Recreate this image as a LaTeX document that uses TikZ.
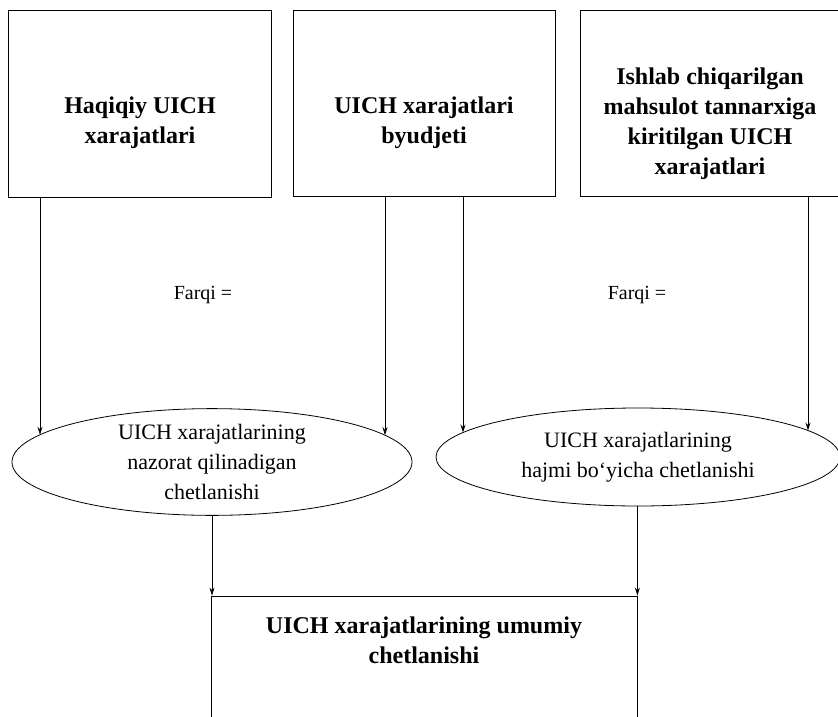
\documentclass[tikz,border=0pt]{standalone}
\usepackage{fontspec}
\setmainfont{Liberation Serif}
\usetikzlibrary{shapes.geometric,arrows.meta,intersections}
\begin{document}
\begin{tikzpicture}[x=1pt,y=-1pt,
  box/.style={draw, line width=0.8pt, rectangle, inner sep=0pt},
  btext/.style={align=center, inner sep=0pt, font=\fontsize{24}{30}\selectfont\bfseries},
  etext/.style={align=center, font=\fontsize{22}{30}\selectfont},
  ftext/.style={inner sep=0pt, font=\fontsize{20}{24}\selectfont},
  oval/.style={draw, line width=0.8pt, ellipse, inner sep=0pt, align=center, font=\fontsize{22}{30}\selectfont},
  arr/.style={line width=0.8pt, -{Stealth[length=8pt,width=5pt]}}
]
\useasboundingbox (0,0) rectangle (838,717);
% top boxes
\node[box, minimum width=263pt, minimum height=187pt] (b1) at (139.5,103.5) {};
\node[box, minimum width=262pt, minimum height=186pt] (b2) at (424,103) {};
\node[box, minimum width=262pt, minimum height=186pt] (b3) at (711,103) {};
\node[btext] (t1) at (140,123) {Haqiqiy UICH\\xarajatlari};
\node[btext] (t2) at (424,123) {UICH xarajatlari\\byudjeti};
\node[btext] (t3) at (710,124) {Ishlab chiqarilgan\\mahsulot tannarxiga\\kiritilgan UICH\\xarajatlari};
% labels
\node[ftext] (f1) at (203,295) {Farqi =};
\node[ftext] (f2) at (637,295) {Farqi =};
% ellipses
\node[oval, minimum width=400pt, minimum height=100pt, name path=E1] (e1) at (212,462) {UICH xarajatlarining\\nazorat qilinadigan\\chetlanishi};
\node[oval, minimum width=404pt, minimum height=98pt, name path=E2] (e2) at (638,457) {UICH xarajatlarining\\hajmi bo‘yicha chetlanishi};
% bottom box
\node[box, minimum width=426pt, minimum height=129pt] (b4) at (424,660.5) {};
\node[btext] (t4) at (424,640) {UICH xarajatlarining umumiy\\chetlanishi};
% guide paths
\path[name path=v1] (40,197) -- (40,560);
\path[name path=v2] (385,197) -- (385,560);
\path[name path=v3] (463,197) -- (463,560);
\path[name path=v4] (808,197) -- (808,560);
\path[name intersections={of=v1 and E1, by={p1}, sort by=v1}];
\path[name intersections={of=v2 and E1, by={p2}, sort by=v2}];
\path[name intersections={of=v3 and E2, by={p3}, sort by=v3}];
\path[name intersections={of=v4 and E2, by={p4}, sort by=v4}];
% arrows
\draw[arr] (b1.south -| p1) -- (p1);
\draw[arr] (b2.south -| p2) -- (p2);
\draw[arr] (b2.south -| p3) -- (p3);
\draw[arr] (b3.south -| p4) -- (p4);
\draw[arr] (e1.south) -- (e1.south |- b4.north);
\draw[arr] (e2.south -| b4.north east) -- (b4.north east);
\end{tikzpicture}
\end{document}
